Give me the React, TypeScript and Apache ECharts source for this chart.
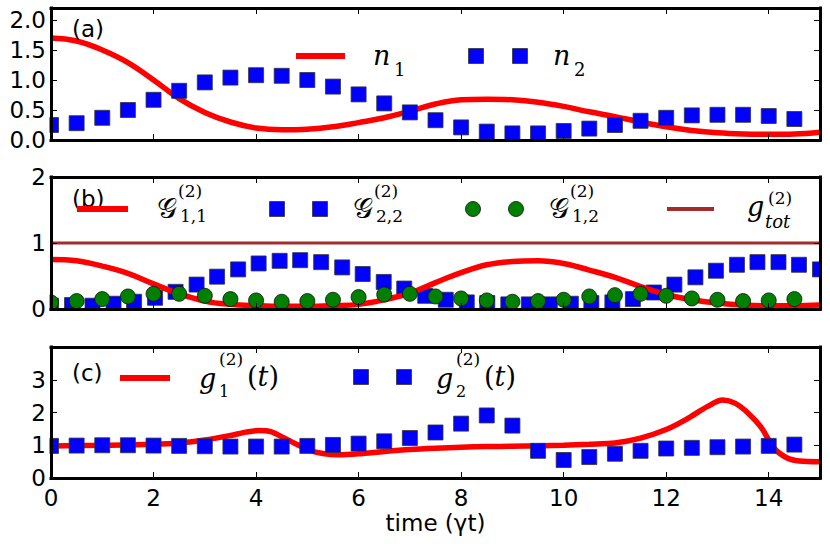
import React, { useEffect, useRef } from "react";
import * as echarts from "echarts";

// ---------- data ----------
const halfStepTimes = [0, 0.5, 1, 1.5, 2, 2.5, 3, 3.5, 4, 4.5, 5, 5.5, 6, 6.5, 7, 7.5, 8, 8.5, 9, 9.5, 10, 10.5, 11, 11.5, 12, 12.5, 13, 13.5, 14, 14.5];
const curveTimes = [0, 0.5, 1, 1.5, 2, 2.5, 3, 3.5, 4, 4.5, 5, 5.5, 6, 6.5, 7, 7.5, 8, 8.5, 9, 9.5, 10, 10.5, 11, 11.5, 12, 12.5, 13, 13.5, 14, 14.5, 15];

// panel (a)
const n1Values = [1.70, 1.65, 1.50, 1.29, 1.00, 0.69, 0.46, 0.30, 0.20, 0.17, 0.18, 0.22, 0.29, 0.37, 0.48, 0.60, 0.67, 0.68, 0.67, 0.63, 0.56, 0.47, 0.39, 0.30, 0.22, 0.16, 0.12, 0.10, 0.095, 0.10, 0.13];
const n2Values = [0.25, 0.28, 0.37, 0.50, 0.67, 0.82, 0.96, 1.04, 1.08, 1.07, 1.00, 0.89, 0.76, 0.61, 0.46, 0.33, 0.21, 0.14, 0.11, 0.11, 0.15, 0.19, 0.25, 0.32, 0.37, 0.41, 0.42, 0.42, 0.40, 0.35];

// panel (b)
const g11Values = [0.75, 0.73, 0.65, 0.54, 0.38, 0.23, 0.12, 0.07, 0.05, 0.04, 0.04, 0.05, 0.07, 0.14, 0.24, 0.40, 0.55, 0.67, 0.72, 0.73, 0.69, 0.59, 0.48, 0.34, 0.22, 0.14, 0.09, 0.06, 0.05, 0.05, 0.06];
const g22Times = [0, 0.41, 0.81, 1.22, 1.62, 2.03, 2.43, 2.84, 3.24, 3.65, 4.05, 4.46, 4.86, 5.27, 5.68, 6.08, 6.49, 6.89, 7.30, 7.70, 8.11, 8.51, 8.92, 9.32, 9.73, 10.14, 10.54, 10.95, 11.35, 11.76, 12.16, 12.57, 12.97, 13.38, 13.78, 14.19, 14.59, 15.0];
const g22Values = [0.05, 0.06, 0.05, 0.08, 0.11, 0.17, 0.26, 0.37, 0.49, 0.60, 0.69, 0.73, 0.74, 0.71, 0.63, 0.53, 0.41, 0.31, 0.20, 0.14, 0.10, 0.09, 0.07, 0.07, 0.07, 0.08, 0.09, 0.10, 0.15, 0.25, 0.37, 0.48, 0.58, 0.67, 0.71, 0.71, 0.67, 0.60];
const g12Values = [0.10, 0.12, 0.15, 0.19, 0.23, 0.23, 0.20, 0.15, 0.13, 0.11, 0.12, 0.14, 0.18, 0.22, 0.23, 0.19, 0.16, 0.13, 0.11, 0.12, 0.14, 0.19, 0.21, 0.23, 0.20, 0.16, 0.14, 0.12, 0.13, 0.15];
const gTotTimes = [0, 15];
const gTotValues = [1, 1];

// panel (c)
const g1Times = [0, 1, 2, 2.5, 3, 3.5, 3.8, 4.05, 4.3, 4.55, 4.8, 5.05, 5.3, 5.6, 6.0, 6.5, 7.0, 7.5, 8.0, 8.5, 9.0, 9.5, 10.0, 10.5, 11.0, 11.5, 12.0, 12.4, 12.8, 13.1, 13.35, 13.6, 13.85, 14.1, 14.35, 14.6, 15.0];
const g1Values = [0.98, 1.0, 1.03, 1.07, 1.16, 1.30, 1.40, 1.45, 1.41, 1.22, 1.02, 0.84, 0.75, 0.71, 0.74, 0.81, 0.87, 0.91, 0.94, 0.96, 0.97, 0.98, 1.0, 1.03, 1.07, 1.22, 1.48, 1.80, 2.18, 2.38, 2.28, 1.98, 1.55, 0.92, 0.62, 0.52, 0.50];
const g2Values = [0.98, 0.99, 1.00, 1.00, 0.99, 0.98, 0.97, 0.96, 0.96, 0.96, 0.98, 1.01, 1.05, 1.12, 1.22, 1.39, 1.66, 1.91, 1.60, 0.83, 0.55, 0.64, 0.74, 0.83, 0.90, 0.92, 0.94, 0.96, 0.98, 1.02];

const xAxisName = "time (γt)";
const panelLabels = ["(a)", "(b)", "(c)"];

// ---------- helpers ----------
const zip = (xs: number[], ys: number[]) => xs.map((x, i) => [x, ys[i]]);

const RED = "#ff0000";
const BLUE = "#0000ff";
const GREEN = "#008000";
const BROWN = "#a52a2a";
const SANS = "DejaVu Sans";
const SERIF = "DejaVu Serif";

const grids = [
  { left: 51, width: 769, top: 8, height: 132 },
  { left: 51, width: 769, top: 177, height: 132 },
  { left: 51, width: 769, top: 347, height: 131 },
];

const yRanges = [
  { max: 2.2, interval: 0.5, fmt: (v: number) => v.toFixed(1) },
  { max: 2, interval: 1, fmt: (v: number) => String(v) },
  { max: 4, interval: 1, fmt: (v: number) => String(v) },
];

function mtext(text: string, x: number, y: number, size: number, italic: boolean, rich?: any) {
  return {
    type: "text",
    x,
    y,
    z: 50,
    style: {
      text,
      fontSize: size,
      fontFamily: SERIF,
      fontStyle: italic ? "italic" : "normal",
      fill: "#000",
      align: "left",
      verticalAlign: "middle",
      rich,
    },
  };
}

function legLine(x1: number, x2: number, y: number, color: string, w: number) {
  return { type: "line", z: 50, shape: { x1, y1: y, x2, y2: y }, style: { stroke: color, lineWidth: w } };
}
function legSquare(cx: number, cy: number) {
  return { type: "rect", z: 50, shape: { x: cx - 7.5, y: cy - 7.5, width: 15, height: 15 }, style: { fill: BLUE, stroke: "#333", lineWidth: 0.8 } };
}
function legCircle(cx: number, cy: number) {
  return { type: "circle", z: 50, shape: { cx, cy, r: 7.5 }, style: { fill: GREEN, stroke: "#111", lineWidth: 0.8 } };
}
function mask(x: number, y: number, width: number, height: number) {
  return { type: "rect", z: 6, silent: true, shape: { x, y, width, height }, style: { fill: "#ffffff" } };
}
const tRich = { i: { fontStyle: "italic", fontFamily: SERIF, fontSize: 27 } };

export default function App() {
  const ref = useRef<HTMLDivElement>(null);

  useEffect(() => {
    if (!ref.current) return;
    const chart = echarts.init(ref.current, null, { renderer: "svg" });

    const xAxes: any[] = [];
    const yAxes: any[] = [];
    for (let i = 0; i < 3; i++) {
      for (const pos of ["bottom", "top"]) {
        xAxes.push({
          type: "value",
          gridIndex: i,
          position: pos,
          min: 0,
          max: 15,
          interval: 2,
          z: 10,
          axisLine: { show: true, onZero: false, lineStyle: { color: "#000", width: 3, cap: "square" } },
          axisTick: { show: true, inside: true, length: 6, lineStyle: { color: "#000", width: 1 } },
          splitLine: { show: false },
          axisLabel: {
            show: i === 2 && pos === "bottom",
            fontSize: 23,
            fontFamily: SANS,
            color: "#000",
            margin: 8,
            showMaxLabel: false,
          },
          name: i === 2 && pos === "bottom" ? xAxisName : "",
          nameLocation: "middle",
          nameGap: 33,
          nameTextStyle: { fontSize: 23, fontFamily: SANS, color: "#000" },
        });
      }
      for (const pos of ["left", "right"]) {
        const r = yRanges[i];
        yAxes.push({
          type: "value",
          gridIndex: i,
          position: pos,
          min: 0,
          max: r.max,
          interval: r.interval,
          z: 10,
          axisLine: { show: true, onZero: false, lineStyle: { color: "#000", width: 3, cap: "square" } },
          axisTick: { show: true, inside: true, length: 6, lineStyle: { color: "#000", width: 1 } },
          splitLine: { show: false },
          axisLabel: {
            show: pos === "left",
            fontSize: 23,
            fontFamily: SANS,
            color: "#000",
            margin: 5,
            showMaxLabel: i === 1,
            formatter: r.fmt,
          },
        });
      }
    }

    const lineSeries = (name: string, data: number[][], grid: number, color: string, width: number, smooth: any) => ({
      name,
      type: "line",
      xAxisIndex: grid * 2,
      yAxisIndex: grid * 2,
      data,
      smooth,
      showSymbol: false,
      symbol: "none",
      lineStyle: { color, width },
      z: 3,
    });
    const scatterSeries = (name: string, data: number[][], grid: number, symbol: string, color: string, z: number) => ({
      name,
      type: "scatter",
      xAxisIndex: grid * 2,
      yAxisIndex: grid * 2,
      data,
      symbol,
      symbolSize: 15,
      clip: false,
      itemStyle: { color, borderColor: symbol === "circle" ? "#111" : "#333", borderWidth: 0.8, opacity: 1 },
      z,
    });

    const graphic: any[] = [
      // white masks outside the plot boxes (clip overflowing markers like matplotlib)
      mask(0, 0, 49.5, 552),
      mask(821.5, 0, 8.5, 552),
      mask(0, 0, 830, 6.5),
      mask(0, 141.5, 830, 34),
      mask(0, 310.5, 830, 35),
      mask(0, 479.5, 830, 72.5),
      // panel labels
      ...panelLabels.map((t, i) => ({
        type: "text",
        x: 72,
        y: [29, 199, 373][i],
        z: 40,
        style: { text: t, fontSize: 23, fontFamily: SANS, fill: "#000", align: "left", verticalAlign: "middle" },
      })),
      // legend (a)
      legLine(296, 345, 56, RED, 6),
      mtext("n", 373, 55, 27, true),
      mtext("1", 394, 69, 18, false),
      legSquare(476, 56),
      legSquare(520, 56),
      mtext("n", 553, 55, 27, true),
      mtext("2", 574, 69, 18, false),
      // legend (b)
      legLine(77, 128, 209, RED, 6),
      mtext("𝒢", 157, 208, 28, false),
      mtext("(2)", 178, 191, 17, false),
      mtext("1,1", 180, 216, 17, false),
      legSquare(277, 209),
      legSquare(320, 209),
      mtext("𝒢", 353, 208, 28, false),
      mtext("(2)", 374, 191, 17, false),
      mtext("2,2", 376, 216, 17, false),
      legCircle(473, 209),
      legCircle(516, 209),
      mtext("𝒢", 549, 208, 28, false),
      mtext("(2)", 570, 191, 17, false),
      mtext("1,2", 572, 216, 17, false),
      legLine(667, 714, 209, BROWN, 4),
      mtext("g", 747, 206, 27, true),
      mtext("(2)", 768, 198, 17, false),
      mtext("tot", 765, 221, 18, true),
      // legend (c)
      legLine(120, 170, 378, RED, 6),
      mtext("g", 199, 378, 27, true),
      mtext("(2)", 219, 359, 17, false),
      mtext("1", 219, 391, 16, false),
      mtext("({i|t})", 247, 376, 27, false, tRich),
      legSquare(361, 377),
      legSquare(404, 377),
      mtext("g", 436, 378, 27, true),
      mtext("(2)", 456, 359, 17, false),
      mtext("2", 456, 391, 16, false),
      mtext("({i|t})", 484, 376, 27, false, tRich),
    ];

    chart.setOption({
      animation: false,
      backgroundColor: "#ffffff",
      grid: grids.map((g) => ({ ...g, containLabel: false })),
      xAxis: xAxes,
      yAxis: yAxes,
      series: [
        lineSeries("n1", zip(curveTimes, n1Values), 0, RED, 5.5, 0.4),
        scatterSeries("n2", zip(halfStepTimes, n2Values), 0, "rect", BLUE, 4),
        lineSeries("gtot", zip(gTotTimes, gTotValues), 1, BROWN, 3, false),
        scatterSeries("G22", zip(g22Times, g22Values), 1, "rect", BLUE, 2),
        lineSeries("G11", zip(curveTimes, g11Values), 1, RED, 5.5, 0.4),
        scatterSeries("G12", zip(halfStepTimes, g12Values), 1, "circle", GREEN, 4),
        lineSeries("g1", zip(g1Times, g1Values), 2, RED, 5.5, 0.3),
        scatterSeries("g2", zip(halfStepTimes, g2Values), 2, "rect", BLUE, 4),
      ],
      graphic,
    });

    return () => chart.dispose();
  }, []);

  return <div ref={ref} style={{ position: "absolute", left: 0, top: 0, width: 830, height: 552 }} />;
}
